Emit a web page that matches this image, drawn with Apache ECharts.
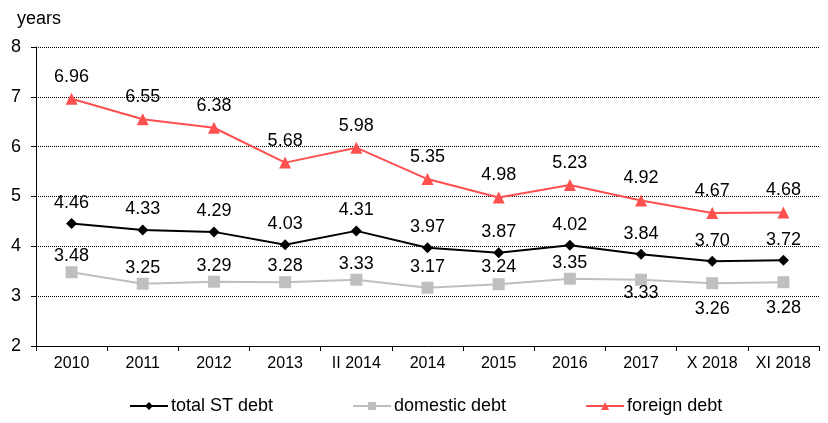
<!DOCTYPE html>
<html>
<head>
<meta charset="utf-8">
<script src="https://cdn.jsdelivr.net/npm/echarts@6/dist/echarts.min.js"></script>
<style>
  html, body { margin: 0; padding: 0; background: #fff; }
  #chart { width: 828px; height: 423px; }
</style>
</head>
<body>
<div id="chart"></div>
<script>
// Average maturity of short-term debt, in years
const categories = ['2010', '2011', '2012', '2013', 'II 2014', '2014', '2015', '2016', '2017', 'X 2018', 'XI 2018'];
const totalDebt = [4.46, 4.33, 4.29, 4.03, 4.31, 3.97, 3.87, 4.02, 3.84, 3.70, 3.72];
const domesticDebt = [3.48, 3.25, 3.29, 3.28, 3.33, 3.17, 3.24, 3.35, 3.33, 3.26, 3.28];
const foreignDebt = [6.96, 6.55, 6.38, 5.68, 5.98, 5.35, 4.98, 5.23, 4.92, 4.67, 4.68];
// domestic label placement: above or under each point, and gap to the marker
const domesticBelow = [false, false, false, false, false, false, false, false, true, true, true];
const domesticLabelDist = [1, 1, 1, 1, 1, 6, 2, 1, -2, 11, 11];

const FONT = 'Liberation Sans, Arial, sans-serif';
const labelStyle = { show: true, position: 'top', distance: 6, color: '#000', fontSize: 18, fontFamily: FONT, formatter: p => p.value.toFixed(2) };

const chart = echarts.init(document.getElementById('chart'), null, { renderer: 'canvas' });
chart.setOption({
  animation: false,
  grid: { left: 36, right: 9, top: 47, bottom: 77 },
  title: { text: 'years', left: 12, top: 5, textStyle: { fontSize: 18, fontWeight: 'normal', color: '#000', fontFamily: FONT } },
  legend: {
    bottom: 3, left: 124, itemGap: 79, itemWidth: 38, itemHeight: 10,
    textStyle: { fontSize: 18, color: '#000', fontFamily: FONT, padding: [0, 0, 0, -2] },
    data: ['total ST debt', 'domestic debt', 'foreign debt']
  },
  xAxis: {
    type: 'category', data: categories, boundaryGap: true,
    axisLine: { lineStyle: { color: '#000', width: 1 } },
    axisTick: { show: true, length: 5, interval: 0, lineStyle: { color: '#000' } },
    axisLabel: { color: '#000', fontSize: 16, fontFamily: FONT, margin: 10, interval: 0, hideOverlap: false }
  },
  yAxis: {
    type: 'value', min: 2, max: 8, interval: 1,
    axisLine: { show: true, lineStyle: { color: '#000' } },
    axisTick: { show: true, length: 5, lineStyle: { color: '#000' } },
    axisLabel: { color: '#000', fontSize: 18, fontFamily: FONT, margin: 15 },
    splitLine: { show: true, lineStyle: { color: '#000', type: [1, 1], width: 1 } }
  },
  series: [
    {
      name: 'total ST debt', type: 'line', data: totalDebt,
      symbol: 'diamond', symbolSize: 11,
      lineStyle: { color: '#000', width: 2 }, itemStyle: { color: '#000' },
      label: labelStyle
    },
    {
      name: 'domestic debt', type: 'line',
      data: domesticDebt.map((v, i) => ({
        value: v,
        label: { position: domesticBelow[i] ? 'bottom' : 'top', distance: domesticLabelDist[i] }
      })),
      symbol: 'rect', symbolSize: 12,
      lineStyle: { color: '#bfbfbf', width: 2 }, itemStyle: { color: '#bfbfbf' },
      label: Object.assign({}, labelStyle, { distance: 1 })
    },
    {
      name: 'foreign debt', type: 'line', data: foreignDebt,
      symbol: 'triangle', symbolSize: 12,
      lineStyle: { color: '#ff5050', width: 2 }, itemStyle: { color: '#ff5050' },
      label: Object.assign({}, labelStyle, { distance: 7 })
    }
  ]
});
</script>
</body>
</html>
